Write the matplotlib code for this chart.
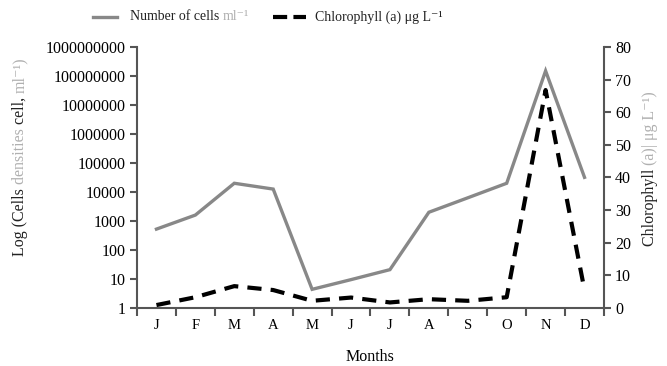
import numpy as np
import matplotlib
matplotlib.use("Agg")
import matplotlib.pyplot as plt
from matplotlib.lines import Line2D
from matplotlib import transforms as mtransforms

plt.rcParams['font.family'] = ['Liberation Serif', 'DejaVu Serif']

months = ['J', 'F', 'M', 'A', 'M', 'J', 'J', 'A', 'S', 'O', 'N', 'D']
cells = [525, 1600, 20000, 12600, 4.4, 9.5, 21, 2000, 6300, 20000, 1.5e8, 32000]
chl = [0.9, 3.3, 6.7, 5.5, 2.2, 3.2, 1.7, 2.7, 2.2, 3.3, 66.8, 5.5]

axis_col = '#555555'
grey_txt = '#b0b0b0'
dash = (0, (3.4, 2.2))

fig = plt.figure(figsize=(6.67, 3.66), dpi=100)
ax = fig.add_axes([0.2054, 0.1585, 0.7001, 0.7131])
ax2 = ax.twinx()

x = np.arange(len(months)) + 0.5
ax.plot(x, cells, color='#888888', lw=2.4, solid_joinstyle='miter')
ax2.plot(x, chl, color='black', lw=3, ls=dash)

ax.set_yscale('log')
ax.set_ylim(1, 1e9)
ax.set_yticks([10 ** k for k in range(10)])
ax.set_yticklabels([str(10 ** k) for k in range(10)])
ax.yaxis.set_minor_locator(matplotlib.ticker.NullLocator())
ax2.set_ylim(0, 80)
ax2.set_yticks(range(0, 81, 10))

ax.set_xlim(0, 12)
ax.set_xticks(range(13))
ax.set_xticklabels([])
ax.set_xticks(x, minor=True)
ax.set_xticklabels(months, minor=True)
ax.tick_params(axis='x', which='minor', length=0, pad=8, labelsize=10.5)
ax.tick_params(axis='x', which='major', length=6, width=1.5, color=axis_col, direction='out')

for a in (ax, ax2):
    a.spines['top'].set_visible(False)
    for s in ('left', 'right', 'bottom'):
        a.spines[s].set_color(axis_col)
        a.spines[s].set_linewidth(1.5)
ax.spines['right'].set_visible(False)
ax2.spines['left'].set_visible(False)
ax2.spines['bottom'].set_visible(False)
ax.tick_params(axis='y', length=5, width=1.5, color=axis_col, labelsize=11.5, pad=3)
ax2.tick_params(axis='y', length=5, width=1.5, color=axis_col, labelsize=11.5, pad=3)

ax.set_xlabel('Months', fontsize=11.5, labelpad=12)

renderer = fig.canvas.get_renderer()


def piece_text(xpos, ypos, pieces, rotation=0, size=11):
    # lay out text pieces one after another, each with its own colour
    tr = fig.transFigure
    for txt, col in pieces:
        t = fig.text(xpos, ypos, txt, color=col, fontsize=size, rotation=rotation,
                     transform=tr, ha='left' if rotation == 0 else 'center',
                     va='center' if rotation == 0 else 'bottom')
        bb = t.get_window_extent(renderer)
        if rotation == 0:
            tr = mtransforms.offset_copy(tr, fig=fig, x=bb.width, units='dots')
        else:
            tr = mtransforms.offset_copy(tr, fig=fig, y=bb.height, units='dots')


piece_text(130 / 667, 1 - 17 / 366, [('Number of cells ', '#222222'), ('ml⁻¹', grey_txt)], size=10)
piece_text(315 / 667, 1 - 17 / 366, [('Chlorophyll (a) μg L⁻¹', '#222222')], size=10)
fig.add_artist(Line2D([93 / 667, 117 / 667], [1 - 17 / 366] * 2, color='#888888', lw=2.4,
                      transform=fig.transFigure))
fig.add_artist(Line2D([273 / 667, 306 / 667], [1 - 17 / 366] * 2, color='black', lw=3,
                      ls=(0, (3.4, 1.5)), transform=fig.transFigure))

piece_text(20 / 667, 1 - 256 / 366,
           [('Log (Cells ', '#222222'), ('densities ', grey_txt), ('cell, ', '#222222'),
            ('ml⁻¹)', grey_txt)], rotation=90, size=11.5)
piece_text(650 / 667, 1 - 246 / 366,
           [('Chlorophyll ', '#222222'), ('(a)| μg L⁻¹)', grey_txt)], rotation=90, size=11.5)

fig.savefig('out.png', dpi=100)
